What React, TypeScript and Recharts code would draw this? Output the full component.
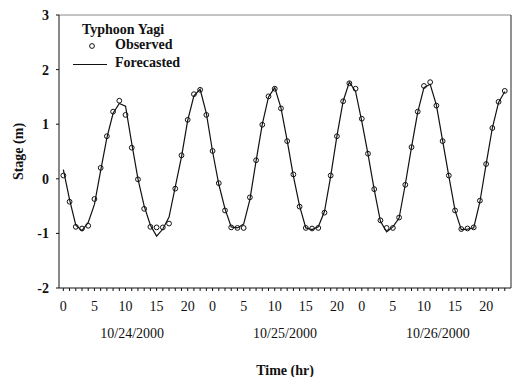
import React from 'react';
import { ComposedChart, Line, XAxis, YAxis, ReferenceLine, Legend, Label } from 'recharts';

const observed = [
  0.06, -0.42, -0.88, -0.91, -0.86, -0.37, 0.2, 0.78, 1.23, 1.43, 1.17, 0.57, -0.01, -0.55, -0.88, -0.89, -0.89, -0.82, -0.18,
  0.43, 1.08, 1.55, 1.63, 1.17, 0.51, -0.08, -0.58, -0.89, -0.9, -0.9, -0.34, 0.34, 0.99, 1.51, 1.65, 1.29, 0.69, 0.08,
  -0.51, -0.9, -0.91, -0.9, -0.62, 0.06, 0.78, 1.42, 1.75, 1.65, 1.1, 0.46, -0.19, -0.76, -0.9, -0.9, -0.71, -0.11,
  0.58, 1.23, 1.7, 1.77, 1.34, 0.69, 0.06, -0.58, -0.92, -0.91, -0.89, -0.4, 0.27, 0.93, 1.41, 1.61,
];

const forecasted = [
  0.17, -0.38, -0.85, -0.95, -0.8, -0.47, 0.15, 0.75, 1.2, 1.38, 1.33, 0.65, 0.0, -0.5, -0.85, -1.05, -0.92, -0.7, -0.15,
  0.4, 1.07, 1.52, 1.64, 1.2, 0.5, -0.1, -0.55, -0.88, -0.9, -0.83, -0.38, 0.33, 1.0, 1.5, 1.67, 1.3, 0.7, 0.05,
  -0.5, -0.9, -0.93, -0.88, -0.6, 0.05, 0.78, 1.42, 1.77, 1.6, 1.05, 0.45, -0.2, -0.78, -0.97, -0.88, -0.72, -0.1,
  0.58, 1.22, 1.67, 1.73, 1.35, 0.7, 0.05, -0.58, -0.93, -0.92, -0.9, -0.42, 0.27, 0.93, 1.4, 1.6,
];

const hours = observed.map((_, i) => i);
const labeledHours = [0, 5, 10, 15, 20, 24, 29, 34, 39, 44, 48, 53, 58, 63, 68];
const dates = ['10/24/2000', '10/25/2000', '10/26/2000'];
const dateTicks = [11.5, 35.5, 59.5];
const yTicks = [-2, -1, 0, 1, 2, 3];

const data = hours.map((h, i) => ({ h, obs: observed[i], fc: forecasted[i] }));

const FONT = '"Liberation Serif", "Times New Roman", serif';

const LegendBox = () => (
  <div style={{ fontFamily: FONT, fontWeight: 'bold', fontSize: 14, color: '#111', position: 'relative', width: 120, height: 56 }}>
    <div style={{ position: 'absolute', left: 9, top: 0, whiteSpace: 'nowrap' }}>Typhoon Yagi</div>
    <svg style={{ position: 'absolute', left: 0, top: 0 }} width={40} height={56}>
      <circle cx={19} cy={24} r={2.4} fill="none" stroke="#111" strokeWidth={1} />
      <line x1={0} y1={42.5} x2={34} y2={42.5} stroke="#111" strokeWidth={1.2} />
    </svg>
    <div style={{ position: 'absolute', left: 42, top: 15, whiteSpace: 'nowrap' }}>Observed</div>
    <div style={{ position: 'absolute', left: 42, top: 33, whiteSpace: 'nowrap' }}>Forecasted</div>
  </div>
);

export default function App() {
  return (
    <div style={{ position: 'absolute', left: 0, top: 0, width: 521, height: 377, background: '#fff' }}>
      <ComposedChart
        width={521}
        height={377}
        data={data}
        margin={{ top: 15, right: 10, bottom: 0, left: 9 }}
      >
        <XAxis
          dataKey="h"
          type="number"
          domain={[-0.7, 72]}
          ticks={hours}
          interval={0}
          allowDataOverflow
          tickFormatter={(v: number) => (labeledHours.includes(v) ? String(v % 24) : '')}
          tickSize={3}
          tickMargin={10}
          height={30}
          stroke="#111"
          tick={{ fill: '#111', fontSize: 14, fontFamily: FONT }}
        />
        <XAxis
          xAxisId="date"
          type="number"
          domain={[-0.7, 72]}
          ticks={dateTicks}
          interval={0}
          allowDataOverflow
          tickFormatter={(v: number) => dates[dateTicks.indexOf(v)] ?? ''}
          axisLine={false}
          tickLine={false}
          tickSize={0}
          tickMargin={10}
          height={59}
          tick={{ fill: '#111', fontSize: 14, fontFamily: FONT }}
        >
          <Label
            value="Time (hr)"
            position="insideBottom"
            offset={2}
            style={{ fill: '#111', fontSize: 14, fontFamily: FONT, fontWeight: 'bold' }}
          />
        </XAxis>
        <YAxis
          type="number"
          domain={[-2, 3]}
          ticks={yTicks}
          interval={0}
          width={50}
          tickSize={3}
          tickMargin={7}
          stroke="#111"
          tick={{ fill: '#111', fontSize: 14, fontFamily: FONT, fontWeight: 'bold' }}
        >
          <Label
            value="Stage (m)"
            angle={-90}
            position="insideLeft"
            offset={9}
            style={{ fill: '#111', fontSize: 14, fontFamily: FONT, fontWeight: 'bold', textAnchor: 'middle' }}
          />
        </YAxis>
        <ReferenceLine y={3} stroke="#888" strokeWidth={1} />
        <ReferenceLine x={72} stroke="#222" strokeWidth={1} />
        <Legend
          layout="horizontal"
          verticalAlign="middle"
          align="center"
          content={() => <LegendBox />}
          wrapperStyle={{ position: 'absolute', left: 73, top: 22, width: 120, height: 56 }}
        />
        <Line
          dataKey="obs"
          stroke="none"
          isAnimationActive={false}
          dot={{ r: 2.4, fill: 'none', stroke: '#111', strokeWidth: 1 }}
          activeDot={false}
          legendType="circle"
        />
        <Line
          dataKey="fc"
          type="linear"
          stroke="#111"
          strokeWidth={1.2}
          dot={false}
          activeDot={false}
          isAnimationActive={false}
        />
      </ComposedChart>
    </div>
  );
}
